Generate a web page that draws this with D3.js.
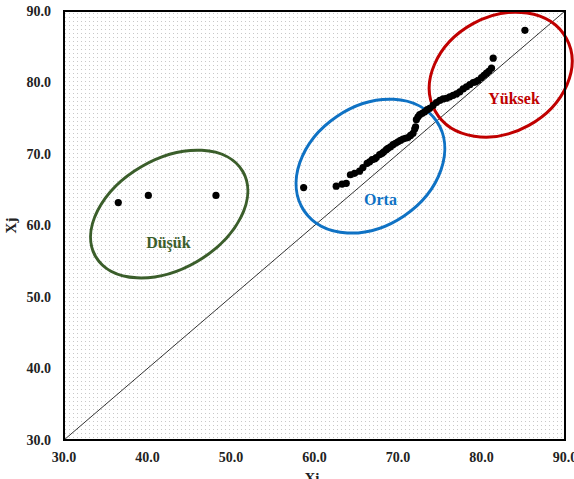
<!DOCTYPE html>
<html>
<head>
<meta charset="utf-8">
<script src="https://cdn.jsdelivr.net/npm/d3@7"></script>
<style>
  body { margin: 0; background: #fff; }
  text { font-family: "Liberation Serif", "Times New Roman", serif; font-weight: bold; }
</style>
</head>
<body>
<div id="chart"></div>
<script>
// Xi / Xj values
const xi = [36.5, 40.1, 48.2, 58.7, 62.6, 63.3, 63.8, 64.3, 64.8, 65.4, 65.8, 66.3, 66.6, 66.9,
  67.2, 67.4, 67.8, 68.1, 68.3, 68.6, 68.8, 69.1, 69.4, 69.7, 70.0, 70.3, 70.6, 70.9, 71.2,
  71.5, 71.8, 72.0, 72.1, 72.2, 72.4, 72.6, 72.9, 73.2, 73.5, 73.8, 74.2, 74.6, 75.0, 75.4,
  75.8, 76.2, 76.6, 77.0, 77.4, 77.8, 78.2, 78.6, 79.0, 79.3, 79.6, 80.0, 80.3, 80.6, 80.9,
  81.2, 81.4, 85.2];
const xj = [63.2, 64.2, 64.2, 65.3, 65.5, 65.8, 65.9, 67.1, 67.3, 67.6, 68.1, 68.7, 68.9, 69.2,
  69.3, 69.5, 69.9, 70.1, 70.3, 70.6, 70.8, 71.0, 71.3, 71.5, 71.7, 71.9, 72.1, 72.2, 72.3,
  72.6, 72.9, 73.5, 73.8, 74.8, 75.2, 75.5, 75.7, 75.9, 76.2, 76.4, 76.8, 77.2, 77.5, 77.7,
  77.8, 78.0, 78.2, 78.4, 78.7, 79.1, 79.4, 79.7, 80.0, 80.1, 80.3, 80.7, 81.0, 81.3, 81.6,
  82.0, 83.4, 87.3];

const ticks = [30, 40, 50, 60, 70, 80, 90];

// groups (ellipse centre and label position in data units)
const groups = ["Düşük", "Orta", "Yüksek"];
const groupCx = [42.6, 66.7, 82.3];
const groupCy = [61.6, 68.3, 81.1];
const labelX = [42.5, 67.9, 83.9];
const labelY = [57.6, 63.7, 77.8];
const groupColors = ["#3b5e2b", "#0f72c4", "#c00000"];
const ellRx = [85, 80, 75];
const ellRy = [55, 60, 58];
const ellRot = [-30, -34, -29];

const width = 574, height = 479;
const margin = { top: 11, right: 9, bottom: 39, left: 64 };

const svg = d3.select("#chart").append("svg")
  .attr("width", width)
  .attr("height", height);

const x = d3.scaleLinear().domain([30, 90]).range([margin.left, width - margin.right]);
const y = d3.scaleLinear().domain([30, 90]).range([height - margin.bottom, margin.top]);

// dotted background
const pat = svg.append("defs").append("pattern")
  .attr("id", "dots")
  .attr("patternUnits", "userSpaceOnUse")
  .attr("width", 4).attr("height", 4);
pat.append("rect").attr("width", 4).attr("height", 4).attr("fill", "#fff");
pat.append("rect").attr("x", 1).attr("y", 1).attr("width", 1).attr("height", 1).attr("fill", "#c8c8c8");

svg.append("rect")
  .attr("x", x(30)).attr("y", y(90))
  .attr("width", x(90) - x(30)).attr("height", y(30) - y(90))
  .attr("fill", "url(#dots)");

// 1:1 line
svg.append("line")
  .attr("x1", x(30)).attr("y1", y(30))
  .attr("x2", x(90)).attr("y2", y(90))
  .attr("stroke", "#333").attr("stroke-width", 1);

// ellipses
const clip = svg.append("clipPath").attr("id", "clip");
clip.append("rect").attr("x", 0).attr("y", y(90) - 2).attr("width", width).attr("height", height);

svg.append("g").attr("clip-path", "url(#clip)")
  .selectAll("ellipse")
  .data(groups)
  .join("ellipse")
  .attr("transform", (d, i) => `translate(${x(groupCx[i])},${y(groupCy[i])}) rotate(${ellRot[i]})`)
  .attr("rx", (d, i) => ellRx[i])
  .attr("ry", (d, i) => ellRy[i])
  .attr("fill", "none")
  .attr("stroke", (d, i) => groupColors[i])
  .attr("stroke-width", 3);

// points
svg.append("g")
  .selectAll("circle")
  .data(xi)
  .join("circle")
  .attr("cx", d => x(d))
  .attr("cy", (d, i) => y(xj[i]))
  .attr("r", 3.6)
  .attr("fill", "#000");

// group labels
svg.append("g")
  .selectAll("text")
  .data(groups)
  .join("text")
  .attr("x", (d, i) => x(labelX[i]))
  .attr("y", (d, i) => y(labelY[i]))
  .attr("text-anchor", "middle")
  .attr("dominant-baseline", "central")
  .attr("font-size", 16)
  .attr("fill", (d, i) => groupColors[i])
  .text(d => d);

// frame
svg.append("rect")
  .attr("x", x(30)).attr("y", y(90))
  .attr("width", x(90) - x(30)).attr("height", y(30) - y(90))
  .attr("fill", "none")
  .attr("stroke", "#000").attr("stroke-width", 2);

// tick labels (the last x label runs off the right edge, as in the reference)
svg.append("g")
  .selectAll("text")
  .data(ticks)
  .join("text")
  .attr("x", d => x(d))
  .attr("y", y(30) + 22)
  .attr("text-anchor", "middle")
  .attr("font-size", 14)
  .attr("fill", "#222")
  .text(d => d.toFixed(1));

svg.append("g")
  .selectAll("text")
  .data(ticks)
  .join("text")
  .attr("x", x(30) - 13)
  .attr("y", d => y(d))
  .attr("text-anchor", "end")
  .attr("dominant-baseline", "central")
  .attr("font-size", 14)
  .attr("fill", "#222")
  .text(d => d.toFixed(1));

// axis titles (Xi is cut by the bottom edge in the reference)
svg.append("text")
  .attr("x", 312).attr("y", height + 4)
  .attr("text-anchor", "middle")
  .attr("font-size", 15)
  .attr("fill", "#222")
  .text("Xi");

svg.append("text")
  .attr("transform", `translate(16,${(y(30) + y(90)) / 2}) rotate(-90)`)
  .attr("text-anchor", "middle")
  .attr("font-size", 15)
  .attr("fill", "#222")
  .text("Xj");
</script>
</body>
</html>
